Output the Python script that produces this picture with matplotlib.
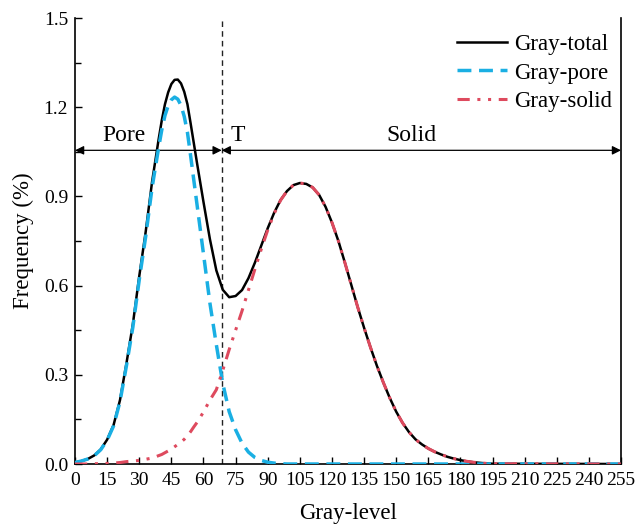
import matplotlib
matplotlib.use("Agg")
import matplotlib.pyplot as plt
from matplotlib.ticker import MultipleLocator, FormatStrFormatter

plt.rcParams['font.family'] = ['Liberation Serif', 'DejaVu Serif']

# gray level grid and the curves (finer around the pore peak)
gray = [0, 3, 6, 9, 12, 15, 18, 21, 24, 27, 30, 33, 36, 39, 40.5, 42, 43.5, 45,
        46.5, 48, 49.5, 51, 52.5, 54, 55.5, 57, 60, 63, 66, 69, 72, 75, 78, 81,
        84, 87, 90, 93, 96, 99, 102, 105, 108, 111, 114, 117, 120, 123, 126, 129,
        132, 135, 138, 141, 144, 147, 150, 153, 156, 159, 162, 165, 168, 171,
        174, 177, 180, 183, 186, 189, 192, 195, 255]

pore = [0.005, 0.010, 0.017, 0.028, 0.048, 0.080, 0.128, 0.210, 0.330, 0.460,
        0.620, 0.765, 0.930, 1.062, 1.123, 1.172, 1.205, 1.225, 1.234, 1.227,
        1.206, 1.169, 1.115, 1.036, 0.953, 0.871, 0.706, 0.541, 0.401, 0.271,
        0.176, 0.115, 0.070, 0.040, 0.022, 0.012, 0.006, 0.003, 0.001, 0.0,
        0.0, 0.0, 0.0, 0.0, 0.0, 0.0, 0.0, 0.0, 0.0, 0.0, 0.0, 0.0, 0.0, 0.0,
        0.0, 0.0, 0.0, 0.0, 0.0, 0.0, 0.0, 0.0, 0.0, 0.0, 0.0, 0.0, 0.0, 0.0,
        0.0, 0.0, 0.0, 0.0, 0.0]

solid = [0.0, 0.0, 0.0, 0.001, 0.001, 0.002, 0.003, 0.005, 0.008, 0.010,
         0.012, 0.016, 0.020, 0.028, 0.032, 0.038, 0.044, 0.050, 0.058, 0.066,
         0.074, 0.083, 0.095, 0.109, 0.125, 0.140, 0.175, 0.215, 0.250, 0.315,
         0.385, 0.450, 0.515, 0.585, 0.655, 0.723, 0.787, 0.842, 0.887, 0.918,
         0.938, 0.945, 0.942, 0.930, 0.905, 0.865, 0.812, 0.750, 0.678, 0.603,
         0.528, 0.458, 0.392, 0.330, 0.274, 0.222, 0.176, 0.138, 0.107, 0.083,
         0.066, 0.052, 0.041, 0.032, 0.024, 0.018, 0.013, 0.009, 0.006, 0.004,
         0.002, 0.001, 0.0]

total = [0.005, 0.010, 0.017, 0.029, 0.049, 0.082, 0.131, 0.215, 0.338, 0.470,
         0.632, 0.781, 0.950, 1.090, 1.155, 1.210, 1.250, 1.278, 1.292, 1.293,
         1.280, 1.252, 1.210, 1.145, 1.078, 1.011, 0.881, 0.756, 0.651, 0.586,
         0.561, 0.565, 0.585, 0.625, 0.677, 0.735, 0.793, 0.845, 0.888, 0.918,
         0.938, 0.945, 0.942, 0.930, 0.905, 0.865, 0.812, 0.750, 0.678, 0.603,
         0.528, 0.458, 0.392, 0.330, 0.274, 0.222, 0.176, 0.138, 0.107, 0.083,
         0.066, 0.052, 0.041, 0.032, 0.024, 0.018, 0.013, 0.009, 0.006, 0.004,
         0.002, 0.001, 0.0]

threshold = 68.5
arrow_y = 1.055
regions = ["Pore", "T", "Solid"]
region_x = [23, 76, 157]

blue = '#1AAFE3'
red = '#DE4A5E'

fig = plt.figure(figsize=(6.38, 5.28), dpi=100)
ax = fig.add_axes([0.1176, 0.1212, 0.8558, 0.8447])

ax.plot(gray, total, color='black', lw=1.8, label='Gray-total', zorder=3)
ax.plot(gray, pore, color=blue, lw=2.5, ls=(0, (4, 2.2)), label='Gray-pore', zorder=4)
ax.plot(gray, solid, color=red, lw=2.2, ls=(0, (4, 2.5, 1, 2.5, 1, 2.5)),
        label='Gray-solid', zorder=4)

ax.axvline(threshold, color='#222222', lw=1, ls=(0, (4, 3)), zorder=2)

arrow = dict(arrowstyle='<|-|>', color='black', lw=0.9,
             shrinkA=0, shrinkB=0, mutation_scale=13)
ax.annotate('', xy=(0, arrow_y), xytext=(threshold, arrow_y), arrowprops=arrow)
ax.annotate('', xy=(threshold, arrow_y), xytext=(255, arrow_y), arrowprops=arrow)

for name, xpos in zip(regions, region_x):
    ax.text(xpos, arrow_y + 0.05, name, ha='center', va='center', fontsize=17)

ax.set_xlim(0, 255)
ax.set_ylim(0, 1.5)
ax.xaxis.set_major_locator(MultipleLocator(15))
ax.yaxis.set_major_locator(MultipleLocator(0.3))
ax.yaxis.set_minor_locator(MultipleLocator(0.15))
ax.yaxis.set_major_formatter(FormatStrFormatter('%.1f'))
ax.tick_params(axis='both', which='both', direction='in', labelsize=14)
ax.tick_params(which='major', length=5, width=1)
ax.tick_params(which='minor', length=4, width=1)
ax.tick_params(axis='x', pad=6)
ax.tick_params(axis='y', pad=5)

ax.spines['top'].set_visible(False)
for s in ['left', 'bottom', 'right']:
    ax.spines[s].set_linewidth(1.2)

ax.set_xlabel('Gray-level', fontsize=16.5, labelpad=10)
ax.set_ylabel('Frequency (%)', fontsize=16.5, labelpad=7)

ax.legend(loc='upper right', frameon=False, fontsize=16.5, handlelength=2.2,
          handletextpad=0.3, labelspacing=0.33, borderaxespad=0.0,
          bbox_to_anchor=(1.0, 0.985))

plt.savefig('out.png', dpi=100)
